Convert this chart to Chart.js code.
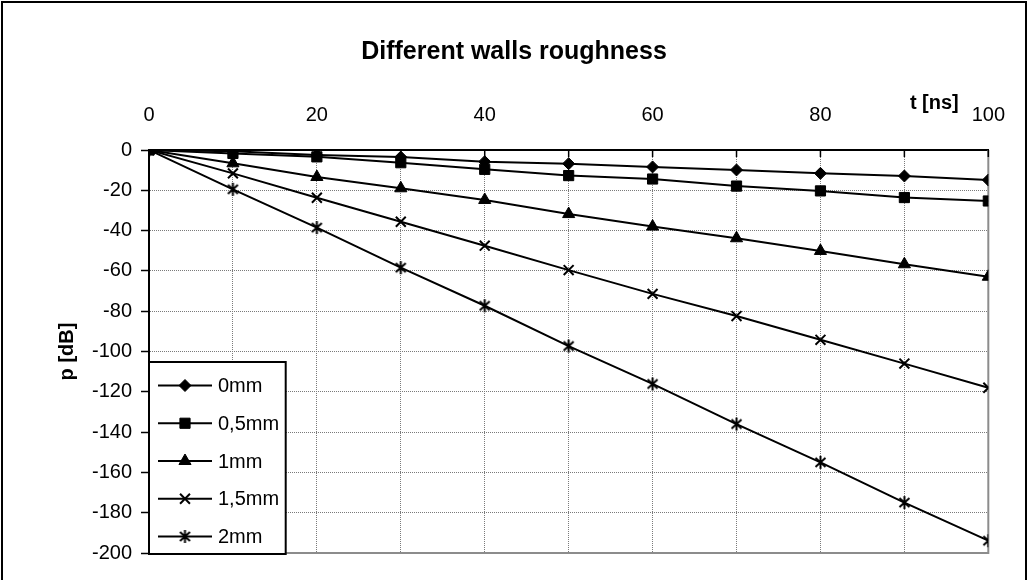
<!DOCTYPE html>
<html>
<head>
<meta charset="utf-8">
<script src="https://cdn.jsdelivr.net/npm/chart.js@4.4.1/dist/chart.umd.min.js"></script>
<style>
  html, body { margin: 0; padding: 0; background: #fff; }
  canvas { display: block; }
</style>
</head>
<body>
<canvas id="c" width="1028" height="580"></canvas>
<script>
// ---------- data ----------
const chartTitle = 'Different walls roughness';
const xTitle = 't [ns]';
const yTitle = 'p [dB]';
const times = [0, 10, 20, 30, 40, 50, 60, 70, 80, 90, 100];
const xTickLabels = [0, 20, 40, 60, 80, 100];
const seriesNames = ['0mm', '0,5mm', '1mm', '1,5mm', '2mm'];
const s0mm  = [0, -0.6, -2.5, -3.5, -5.8, -6.8, -8.4, -9.9, -11.6, -12.9, -14.9];
const s05mm = [0, -1.7, -3.4, -6.3, -9.6, -12.7, -14.4, -17.9, -20.3, -23.6, -25.3];
const s1mm  = [0, -6.6, -13.4, -19, -24.8, -31.8, -38, -43.8, -50.1, -56.7, -62.9];
const s15mm = [0, -11.6, -23.7, -35.6, -47.5, -59.6, -71.4, -82.4, -94.2, -106, -118];
const s2mm  = [0, -19.5, -38.5, -58.4, -77.3, -97.3, -116.1, -136, -155, -175, -193.9];
const yMin = -200, yMax = 0, yStep = 20;
const xMin = 0, xMax = 100, xStep = 10;

// ---------- styles ----------
const FONT = "'Liberation Sans', Arial, Helvetica, sans-serif";
const TICK_SIZE = 20;
const TITLE_SIZE = 25;
const TITLE_PAD_TOP = 37;

function asteriskCanvas() {
  const c = document.createElement('canvas');
  c.width = 15; c.height = 15;
  const g = c.getContext('2d');
  g.strokeStyle = '#000'; g.lineWidth = 2; g.lineCap = 'butt';
  g.beginPath();
  g.moveTo(2.5, 3); g.lineTo(12.5, 12);
  g.moveTo(12.5, 3); g.lineTo(2.5, 12);
  g.moveTo(7.5, 1); g.lineTo(7.5, 14);
  g.stroke();
  return c;
}
const markerStyles = [
  { pointStyle: 'rectRot', radius: 6, borderWidth: 1 },
  { pointStyle: 'rect', radius: 7.2, borderWidth: 1 },
  { pointStyle: 'triangle', radius: 7, borderWidth: 1 },
  { pointStyle: 'crossRot', radius: 7, borderWidth: 2 },
  { pointStyle: asteriskCanvas(), radius: 7, borderWidth: 1 }
];
const seriesValues = [s0mm, s05mm, s1mm, s15mm, s2mm];

const datasets = seriesNames.map((name, i) => ({
  label: name,
  data: times.map((t, k) => ({ x: t, y: seriesValues[i][k] })),
  borderColor: '#000',
  backgroundColor: '#000',
  borderWidth: 2,
  tension: 0,
  fill: false,
  pointStyle: markerStyles[i].pointStyle,
  pointRadius: markerStyles[i].radius,
  pointBorderWidth: markerStyles[i].borderWidth,
  pointBackgroundColor: '#000',
  pointBorderColor: '#000'
}));

function drawMarker(ctx, ms, x, y) {
  if (Chart.helpers && Chart.helpers.drawPoint) {
    ctx.save();
    ctx.fillStyle = '#000'; ctx.strokeStyle = '#000'; ctx.lineWidth = ms.borderWidth;
    Chart.helpers.drawPoint(ctx, { pointStyle: ms.pointStyle, radius: ms.radius, rotation: 0, borderWidth: ms.borderWidth }, x, y);
    ctx.restore();
  }
}

const decoPlugin = {
  id: 'deco',
  beforeDraw(chart) {
    const ctx = chart.ctx;
    ctx.save();
    ctx.fillStyle = '#fff';
    ctx.fillRect(0, 0, chart.width, chart.height);
    ctx.restore();
  },
  beforeDatasetsDraw(chart) {
    const { ctx, chartArea: a } = chart;
    const xs = chart.scales.x;
    ctx.save();
    // gray right & bottom frame
    ctx.strokeStyle = '#8c8c8c';
    ctx.lineWidth = 2;
    ctx.beginPath();
    ctx.moveTo(a.right, a.top);
    ctx.lineTo(a.right, a.bottom);
    ctx.lineTo(a.left, a.bottom);
    ctx.stroke();
    // inward ticks on the top axis
    ctx.strokeStyle = '#000';
    ctx.lineWidth = 1.5;
    ctx.beginPath();
    xs.ticks.forEach(t => {
      const px = xs.getPixelForValue(t.value);
      ctx.moveTo(px, a.top);
      ctx.lineTo(px, a.top + 7);
    });
    ctx.stroke();
    // x axis title
    ctx.fillStyle = '#000';
    ctx.font = 'bold 20px ' + FONT;
    ctx.textAlign = 'center';
    ctx.textBaseline = 'middle';
    ctx.fillText(xTitle, a.right - 54, a.top - 47);
    ctx.restore();
  },
  afterDraw(chart) {
    const { ctx, chartArea: a } = chart;
    ctx.save();
    // legend box
    const lx = a.left, lw = 136.7, lh = 192;
    const ly = a.bottom + 1 - lh;
    ctx.fillStyle = '#fff';
    ctx.fillRect(lx, ly, lw, lh);
    ctx.strokeStyle = '#000';
    ctx.lineWidth = 2;
    ctx.strokeRect(lx, ly, lw, lh);
    ctx.font = TICK_SIZE + 'px ' + FONT;
    ctx.textAlign = 'left';
    ctx.textBaseline = 'middle';
    chart.data.datasets.forEach((ds, i) => {
      const y = ly + 23.5 + i * 37.75;
      ctx.strokeStyle = '#000';
      ctx.lineWidth = 2;
      ctx.beginPath();
      ctx.moveTo(lx + 9, y);
      ctx.lineTo(lx + 63, y);
      ctx.stroke();
      drawMarker(ctx, markerStyles[i], lx + 36, y);
      ctx.fillStyle = '#000';
      ctx.fillText(ds.label, lx + 69, y + 1);
    });
    // outer border
    ctx.strokeStyle = '#000';
    ctx.lineWidth = 2;
    ctx.strokeRect(2, 2, chart.width - 4, chart.height + 20);
    ctx.restore();
  }
};

new Chart(document.getElementById('c'), {
  type: 'line',
  data: { datasets },
  plugins: [decoPlugin],
  options: {
    responsive: false,
    devicePixelRatio: 1,
    animation: false,
    events: [],
    layout: { padding: { left: 0, top: 0, right: 0, bottom: 27 } },
    plugins: {
      legend: { display: false },
      tooltip: { enabled: false },
      title: {
        display: true,
        text: chartTitle,
        color: '#000',
        font: { family: FONT, size: TITLE_SIZE, weight: 'bold' },
        padding: { top: TITLE_PAD_TOP, bottom: 0 }
      }
    },
    scales: {
      x: {
        type: 'linear',
        position: 'top',
        min: xMin, max: xMax,
        afterFit(s) { s.height = 150 - (TITLE_SIZE * 1.2 + TITLE_PAD_TOP); },
        ticks: {
          stepSize: xStep,
          autoSkip: false,
          maxRotation: 0,
          padding: 23,
          color: '#000',
          font: { family: FONT, size: TICK_SIZE },
          callback: v => (xTickLabels.includes(v) ? String(v) : '')
        },
        grid: {
          color: '#7a7a7a',
          lineWidth: 1,
          drawTicks: false
        },
        border: { display: true, color: '#000', width: 2, dash: [1, 1] }
      },
      y: {
        type: 'linear',
        position: 'left',
        min: yMin, max: yMax,
        afterFit(s) { s.width = 149; },
        ticks: {
          stepSize: yStep,
          padding: 9,
          color: '#000',
          font: { family: FONT, size: TICK_SIZE }
        },
        grid: {
          color: '#7a7a7a',
          lineWidth: 1,
          tickLength: 8,
          tickColor: '#000',
          tickWidth: 1.5,
          tickBorderDash: []
        },
        border: { display: true, color: '#000', width: 2, dash: [1, 1] },
        title: {
          display: true,
          text: yTitle,
          color: '#000',
          font: { family: FONT, size: 20, weight: 'bold' },
          padding: { top: 55, bottom: 0 }
        }
      },
      yR: {
        type: 'linear',
        position: 'right',
        display: true,
        afterFit(s) { s.width = 39; },
        ticks: { display: false },
        grid: { display: false, drawTicks: false },
        border: { display: false }
      }
    }
  }
});
</script>
</body>
</html>
